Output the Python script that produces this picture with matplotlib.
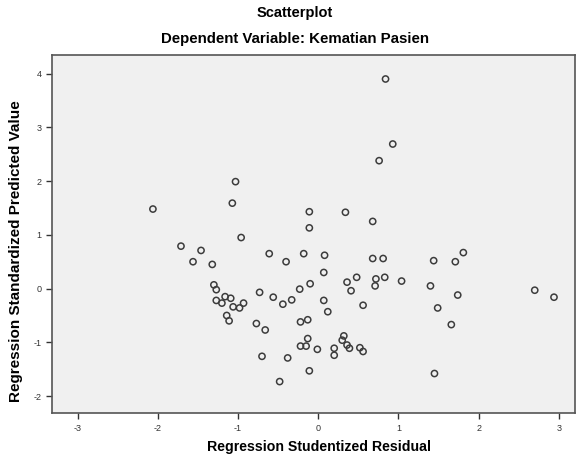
import matplotlib
matplotlib.use("Agg")
import matplotlib.pyplot as plt

plt.rcParams['font.family'] = ['Liberation Sans', 'DejaVu Sans']
plt.rcParams['axes.unicode_minus'] = False

# Regression Studentized Residual (x) vs Regression Standardized Predicted Value (y)
resid = [-2.06, -1.03, -1.07, -0.96, -1.71, -1.46, -0.11, -0.11, 0.84, 0.93,
         0.76, 0.34, 0.68, 1.81, -1.56, -1.32, -0.61, -0.40, -0.18, 0.08,
         0.68, 0.81, 1.44, 1.71, 0.07, -0.10, -0.23, 0.36, 0.48, 0.72,
         0.83, 0.71, 0.41, 1.04, 1.40, 2.70, 2.94, 1.74, 0.07, 0.12,
         0.56, 1.49, 1.66, -1.30, -1.27, -0.73, -1.27, -1.20, -1.16, -1.09,
         -1.06, -0.98, -0.93, -0.56, -0.44, -0.33, -1.14, -1.11, -0.77, -0.66,
         -0.22, -0.13, -0.13, -0.22, -0.15, -0.01, 0.20, 0.20, 0.32, 0.30,
         0.36, 0.39, 0.52, 0.56, -0.70, -0.38, -0.11, -0.48, 1.45]
pred = [1.48, 1.99, 1.59, 0.95, 0.79, 0.71, 1.43, 1.13, 3.90, 2.69,
        2.38, 1.42, 1.25, 0.67, 0.50, 0.45, 0.65, 0.50, 0.65, 0.62,
        0.56, 0.56, 0.52, 0.50, 0.30, 0.09, -0.01, 0.12, 0.21, 0.18,
        0.21, 0.05, -0.04, 0.14, 0.05, -0.03, -0.16, -0.12, -0.22, -0.43,
        -0.31, -0.36, -0.67, 0.07, -0.02, -0.07, -0.22, -0.27, -0.15, -0.18,
        -0.34, -0.36, -0.27, -0.16, -0.29, -0.21, -0.50, -0.60, -0.65, -0.77,
        -0.62, -0.58, -0.93, -1.07, -1.07, -1.13, -1.11, -1.24, -0.88, -0.96,
        -1.05, -1.11, -1.10, -1.17, -1.26, -1.29, -1.53, -1.73, -1.58]
xticks = [-3, -2, -1, 0, 1, 2, 3]
yticks = [-2, -1, 0, 1, 2, 3, 4]

fig = plt.figure(figsize=(5.76, 4.59), dpi=100)
ax = fig.add_axes([0.09, 0.0996, 0.908, 0.781])
ax.set_facecolor('#f0f0f0')

ax.scatter(resid, pred, s=20, facecolors='none', edgecolors='#3c3c3c', linewidths=1.1)

ax.set_xlim(-3.32, 3.20)
ax.set_ylim(-2.32, 4.35)
ax.set_xticks(xticks)
ax.set_yticks(yticks)
ax.tick_params(direction='out', length=4, width=1, colors='#333333', labelsize=6.5)

for s in ax.spines.values():
    s.set_color('#555555')
    s.set_linewidth(1.2)

fig.text(0.512, 0.972, 'Scatterplot', ha='center', va='center',
         fontsize=10.5, fontweight='bold')
fig.text(0.512, 0.915, 'Dependent Variable: Kematian Pasien', ha='center', va='center',
         fontsize=10.8, fontweight='bold')
fig.text(0.554, 0.026, 'Regression Studentized Residual', ha='center', va='center',
         fontsize=10.2, fontweight='bold')
fig.text(0.027, 0.453, 'Regression Standardized Predicted Value', ha='center', va='center',
         rotation=90, fontsize=11, fontweight='bold')

plt.savefig('out.png', dpi=100)
